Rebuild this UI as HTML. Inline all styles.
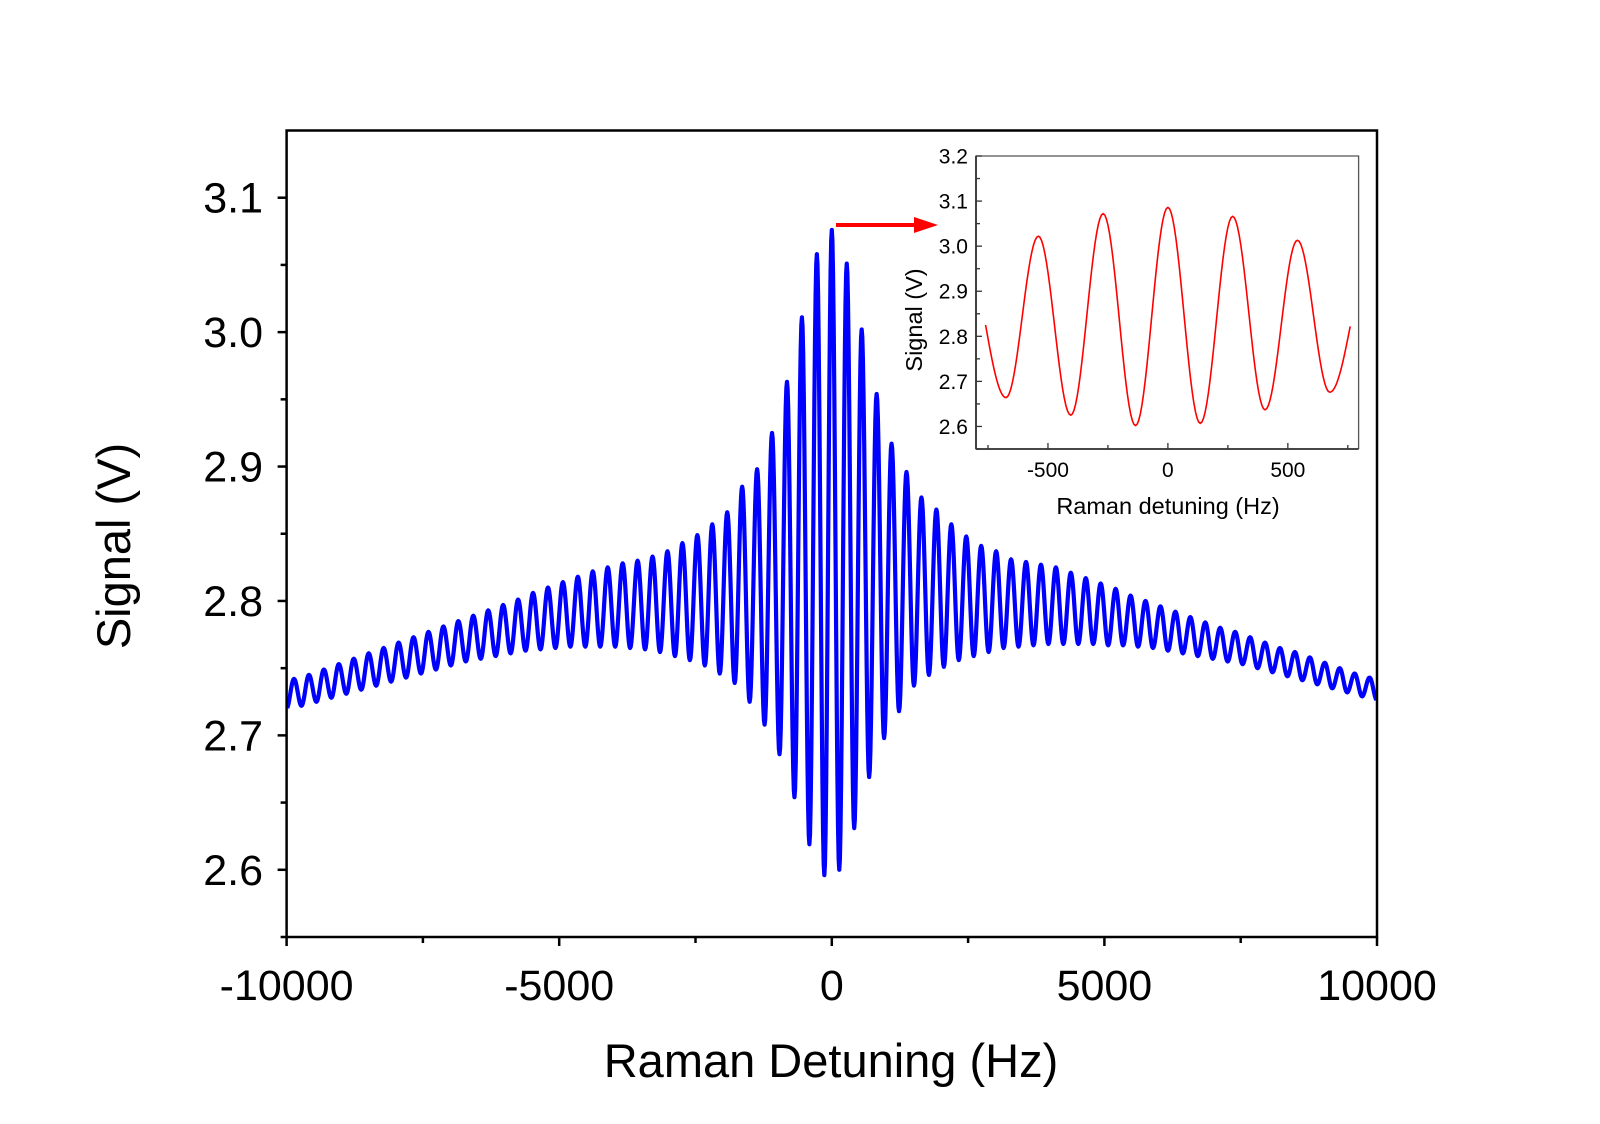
<!DOCTYPE html>
<html><head><meta charset="utf-8"><style>
html,body{margin:0;padding:0;background:#fff;}
svg{display:block;font-family:"Liberation Sans",sans-serif;}
</style></head><body>
<svg id="chart" width="1600" height="1124" viewBox="0 0 1600 1124" xmlns="http://www.w3.org/2000/svg">
<rect width="1600" height="1124" fill="#fff"/>
<g id="main"></g>
<g id="inset"></g>
</svg>
<script>
// ---- main chart data ----
const mainPeriodHz = 274;
const mainPeaks = [ // k = -36 .. 36, at k*period
2.742,2.745,2.749,2.753,2.757,2.761,2.765,2.769,2.773,2.777,2.781,2.785,2.789,2.793,2.797,2.801,2.806,2.810,2.814,2.818,2.822,2.825,2.828,2.830,
2.833,2.837,2.843,2.849,2.857,2.866,2.885,2.898,2.925,2.963,3.011,3.058,
3.076,
3.051,3.002,2.954,2.917,2.896,2.877,2.868,2.857,2.848,2.841,2.837,2.831,
2.829,2.827,2.825,2.821,2.817,2.813,2.809,2.804,2.800,2.796,2.792,2.788,2.784,2.780,2.777,2.773,2.769,2.765,2.762,2.758,2.754,2.750,2.746,2.743];
const mainTroughs = [ // j = -37 .. 36, at (j+0.5)*period
2.720,2.722,2.725,2.728,2.731,2.734,2.737,2.740,2.743,2.746,2.749,2.752,2.755,2.757,2.759,2.761,2.763,2.764,2.765,2.766,2.766,2.766,2.766,2.765,
2.764,2.762,2.759,2.756,2.752,2.746,2.739,2.725,2.708,2.686,2.654,2.619,2.596,
2.600,2.631,2.669,2.698,2.718,2.737,2.745,2.751,2.756,2.759,2.762,2.765,2.766,
2.767,2.768,2.768,2.768,2.768,2.767,2.767,2.766,2.765,2.763,2.761,2.759,2.757,2.755,2.753,2.750,2.747,2.744,2.741,2.738,2.735,2.732,2.729,2.726];
const mainXTicks = [-10000,-5000,0,5000,10000];
const mainXTickLabels = ["-10000","-5000","0","5000","10000"];
const mainYTicks = [2.6,2.7,2.8,2.9,3.0,3.1];
const mainYTickLabels = ["2.6","2.7","2.8","2.9","3.0","3.1"];
// ---- inset data ----
const insetX = [-760,-675,-540,-405,-270,-135,0,135,270,405,540,675,760];
const insetY = [2.825,2.664,3.022,2.625,3.072,2.602,3.086,2.607,3.066,2.637,3.013,2.676,2.822];
const insetXTicks = [-500,0,500];
const insetXTickLabels = ["-500","0","500"];
const insetYTicks = [2.6,2.7,2.8,2.9,3.0,3.1,3.2];
const insetYTickLabels = ["2.6","2.7","2.8","2.9","3.0","3.1","3.2"];

const NS="http://www.w3.org/2000/svg";
function mk(parent,tag,attrs){const e=document.createElementNS(NS,tag);for(const k in attrs)e.setAttribute(k,attrs[k]);parent.appendChild(e);return e;}

const M={l:286.6,r:1377,t:130.5,b:937,x0:-10000,x1:10000,y0:2.55,y1:3.15};
const mx=v=>M.l+(v-M.x0)/(M.x1-M.x0)*(M.r-M.l);
const my=v=>M.b-(v-M.y0)/(M.y1-M.y0)*(M.b-M.t);
const g=document.getElementById('main');

const ext=[];
for(let j=-37;j<=36;j++){
  ext.push([(j+0.5)*mainPeriodHz, mainTroughs[j+37]]);
  if(j<36) ext.push([(j+1)*mainPeriodHz, mainPeaks[j+1+36]]);
}
ext.sort((a,b)=>a[0]-b[0]);
let d="";
for(let i=0;i<ext.length-1;i++){
  const [xa,ya]=ext[i],[xb,yb]=ext[i+1];
  for(let s=0;s<=12;s++){
    const t=s/12, x=xa+(xb-xa)*t, y=ya+(yb-ya)*(1-Math.cos(Math.PI*t))/2;
    if(x<M.x0||x>M.x1) continue;
    d+=(d?"L":"M")+mx(x).toFixed(2)+","+my(y).toFixed(2);
  }
}
const clip=mk(g,'clipPath',{id:'mclip'});mk(clip,'rect',{x:M.l,y:M.t,width:M.r-M.l,height:M.b-M.t});
const line=mk(g,'path',{d:d,fill:'none',stroke:'#0000ff','stroke-width':4.2,'stroke-linejoin':'round','clip-path':'url(#mclip)'});



const frame=mk(g,'rect',{x:M.l,y:M.t,width:M.r-M.l,height:M.b-M.t,fill:'none',stroke:'#000','stroke-width':2.5});



for(let v=-10000;v<=10000;v+=2500){
  const major=v%5000===0;
  mk(g,'line',{x1:mx(v),x2:mx(v),y1:M.b,y2:M.b+(major?9:6),stroke:'#000','stroke-width':2.5});
}
mainXTicks.forEach((v,i)=>{
  const t=mk(g,'text',{x:mx(v),y:1000,'font-size':43,'text-anchor':'middle',fill:'#000'});
  t.textContent=mainXTickLabels[i];
  
  
});
for(let k=0;k<=11;k++){
  const v=2.55+k*0.05, major=(k%2===1);
  if(v>3.151) break;
  mk(g,'line',{x1:M.l,x2:M.l-(major?9:6),y1:my(v),y2:my(v),stroke:'#000','stroke-width':2.5});
}
mainYTicks.forEach((v,i)=>{
  const t=mk(g,'text',{x:263,y:my(v)+15,'font-size':43,'text-anchor':'end',fill:'#000'});
  t.textContent=mainYTickLabels[i];
  
  
});
const xt=mk(g,'text',{x:831,y:1077,'font-size':47,'text-anchor':'middle',fill:'#000'});
xt.textContent="Raman Detuning (Hz)";


const yt=mk(g,'text',{x:0,y:0,'font-size':47,'text-anchor':'middle',fill:'#000',transform:'translate(130,546) rotate(-90)'});
yt.textContent="Signal (V)";



const arr=mk(g,'g',{});


mk(arr,'line',{x1:836,y1:225,x2:920,y2:225,stroke:'#ff0000','stroke-width':4});
mk(arr,'polygon',{points:'914,217 938,225 914,233',fill:'#ff0000'});

const I={l:976,r:1358.6,t:156,b:449,x0:-800,x1:795,y0:2.55,y1:3.2};
const ix=v=>I.l+(v-I.x0)/(I.x1-I.x0)*(I.r-I.l);
const iy=v=>I.b-(v-I.y0)/(I.y1-I.y0)*(I.b-I.t);
const gi=document.getElementById('inset');
let di="";
for(let i=0;i<insetX.length-1;i++){
  const xa=insetX[i],ya=insetY[i],xb=insetX[i+1],yb=insetY[i+1];
  const endA=(i===0), endB=(i===insetX.length-2);
  for(let s=0;s<=20;s++){
    const t=s/20; const x=xa+(xb-xa)*t;
    let f;
    if(endA) f=Math.sin(Math.PI*t/2); else if(endB) f=1-Math.cos(Math.PI*t/2); else f=(1-Math.cos(Math.PI*t))/2;
    const y=ya+(yb-ya)*f;
    di+=(di?"L":"M")+ix(x).toFixed(2)+","+iy(y).toFixed(2);
  }
}
const il=mk(gi,'path',{d:di,fill:'none',stroke:'#ff0000','stroke-width':1.6});


const ifr=mk(gi,'path',{d:`M${I.r},${I.b}L${I.l},${I.b}L${I.l},${I.t}L${I.r},${I.t}L${I.r},${I.b}`,fill:'none',stroke:'#555','stroke-width':1.3});


mk(gi,'line',{x1:I.l,x2:I.l,y1:I.t,y2:I.b,stroke:'#333','stroke-width':1.8});
mk(gi,'line',{x1:I.l,x2:I.r,y1:I.b,y2:I.b,stroke:'#333','stroke-width':1.8});
for(let v=-750;v<=750;v+=250){
  const major=v%500===0;
  mk(gi,'line',{x1:ix(v),x2:ix(v),y1:I.b,y2:I.b-(major?6:4),stroke:'#333','stroke-width':1.3});
}
for(let k=0;k<=13;k++){
  const v=2.55+k*0.05, major=(k%2===1);
  mk(gi,'line',{x1:I.l,x2:I.l+(major?6:4),y1:iy(v),y2:iy(v),stroke:'#333','stroke-width':1.3});
}
insetXTicks.forEach((v,i)=>{
  const t=mk(gi,'text',{x:ix(v),y:477,'font-size':21,'text-anchor':'middle',fill:'#000'});
  t.textContent=insetXTickLabels[i];
  
  
});
insetYTicks.forEach((v,i)=>{
  const t=mk(gi,'text',{x:968,y:iy(v)+7.5,'font-size':21,'text-anchor':'end',fill:'#000'});
  t.textContent=insetYTickLabels[i];
  
  
});
const ixt=mk(gi,'text',{x:1168,y:514,'font-size':23.5,'text-anchor':'middle',fill:'#000'});
ixt.textContent="Raman detuning (Hz)";


const iyt=mk(gi,'text',{x:0,y:0,'font-size':23.5,'text-anchor':'middle',fill:'#000',transform:'translate(922,320) rotate(-90)'});
iyt.textContent="Signal (V)";


</script>
</body></html>
